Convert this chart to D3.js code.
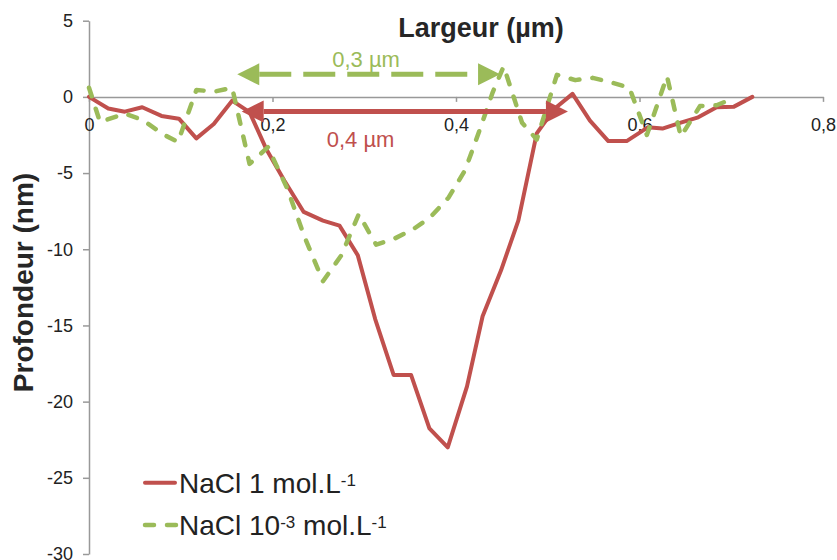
<!DOCTYPE html>
<html>
<head>
<meta charset="utf-8">
<script src="https://cdn.jsdelivr.net/npm/d3@7"></script>
<style>
  html, body { margin: 0; padding: 0; background: #fff; }
  svg { display: block; font-family: "Liberation Sans", Arial, sans-serif; }
</style>
</head>
<body>
<svg id="chart" width="837" height="560"></svg>
<script>
// ---- data ----
const redX = [0, 0.021, 0.039, 0.058, 0.079, 0.098, 0.117, 0.136, 0.156, 0.175, 0.193, 0.213, 0.234, 0.255, 0.273, 0.293, 0.312, 0.332, 0.351, 0.371, 0.391, 0.412, 0.429, 0.449, 0.468, 0.488, 0.507, 0.527, 0.546, 0.566, 0.586, 0.609, 0.625, 0.645, 0.664, 0.684, 0.703, 0.723];
const redY = [0, -0.76, -0.97, -0.68, -1.25, -1.43, -2.72, -1.78, -0.25, -1.0, -3.4, -5.5, -7.55, -8.12, -8.45, -10.4, -14.6, -18.25, -18.25, -21.75, -23.0, -19.0, -14.4, -11.4, -8.1, -2.4, -0.8, 0.2, -1.56, -2.9, -2.9, -2.0, -2.08, -1.69, -1.34, -0.68, -0.64, 0.0];

const greenX = [0, 0.012, 0.039, 0.058, 0.082, 0.097, 0.117, 0.137, 0.156, 0.175, 0.195, 0.216, 0.235, 0.255, 0.275, 0.294, 0.313, 0.333, 0.353, 0.372, 0.392, 0.410, 0.425, 0.440, 0.452, 0.472, 0.488, 0.510, 0.530, 0.549, 0.569, 0.589, 0.608, 0.630, 0.645, 0.666, 0.684, 0.702];
const greenY = [0.6, -1.65, -1.1, -1.5, -2.5, -2.95, 0.45, 0.35, 0.6, -4.4, -3.3, -6.0, -9.2, -12.1, -10.4, -7.7, -9.7, -9.3, -8.7, -7.9, -6.6, -4.8, -2.3, 0.3, 2.0, -1.7, -2.8, 1.45, 1.1, 1.25, 0.95, 0.6, -2.5, 1.35, -2.6, -0.6, -0.55, -0.1];

const xTicks = [0, 0.2, 0.4, 0.6, 0.8];
const xTickLabels = ["0", "0,2", "0,4", "0,6", "0,8"];
const yTicks = [5, 0, -5, -10, -15, -20, -25, -30];
const yTickLabels = ["5", "0", "-5", "-10", "-15", "-20", "-25", "-30"];

const seriesNames = ["NaCl 1 mol.L", "NaCl 10"];
const xTitle = "Largeur (µm)";
const yTitle = "Profondeur (nm)";

// annotation arrows (data units)
const greenArrow = { x1: 0.1616, x2: 0.448, y: 1.48, label: "0,3 µm", lx: 0.302, ly: 1.98 };
const redArrow = { x1: 0.1664, x2: 0.522, y: -0.96, label: "0,4 µm", lx: 0.296, ly: -3.27 };

// ---- colours ----
const RED = "#C0504D";
const GREEN = "#9BBB59";
const AXIS = "#999999";
const TEXT = "#222222";

const svg = d3.select("#chart");
svg.append("rect").attr("width", 837).attr("height", 560).attr("fill", "#fff");

const x = d3.scaleLinear().domain([0, 0.8]).range([89, 823]);
const y = d3.scaleLinear().domain([-30, 5]).range([554, 20.7]);

// y axis
const yAxis = d3.axisLeft(y)
  .tickValues(yTicks)
  .tickFormat((d, i) => yTickLabels[i])
  .tickSize(6).tickSizeOuter(0).tickPadding(10);
const gy = svg.append("g").attr("transform", `translate(${x(0)},0)`).call(yAxis);
gy.select(".domain").attr("stroke", AXIS).attr("stroke-width", 1.5);
gy.selectAll(".tick line").attr("stroke", AXIS).attr("stroke-width", 1.5);
gy.selectAll(".tick text").attr("fill", TEXT).attr("font-size", 18)
  .attr("font-family", "Liberation Sans, Arial, sans-serif");

// x axis at y = 0
const xAxis = d3.axisBottom(x)
  .tickValues(xTicks)
  .tickFormat((d, i) => xTickLabels[i])
  .tickSize(5).tickSizeOuter(0).tickPadding(16);
const gx = svg.append("g").attr("transform", `translate(0,${y(0)})`).call(xAxis);
gx.select(".domain").attr("stroke", AXIS).attr("stroke-width", 1.5);
gx.selectAll(".tick line").attr("stroke", AXIS).attr("stroke-width", 1.5);
gx.selectAll(".tick text").attr("fill", TEXT).attr("font-size", 18)
  .attr("font-family", "Liberation Sans, Arial, sans-serif");

// series
const line = d3.line().x(d => x(d[0])).y(d => y(d[1]));
const redData = redX.map((v, i) => [v, redY[i]]);
const greenData = greenX.map((v, i) => [v, greenY[i]]);

svg.append("path").datum(redData).attr("d", line)
  .attr("fill", "none").attr("stroke", RED).attr("stroke-width", 4)
  .attr("stroke-linejoin", "round").attr("stroke-linecap", "round");

svg.append("path").datum(greenData).attr("d", line)
  .attr("fill", "none").attr("stroke", GREEN).attr("stroke-width", 4.5)
  .attr("stroke-dasharray", "9,13")
  .attr("stroke-linejoin", "round").attr("stroke-linecap", "round");

// arrows
function arrowHead(tx, ty, dir, len, half) {
  return `M${tx},${ty}L${tx - dir * len},${ty - half}L${tx - dir * len},${ty + half}Z`;
}
function drawArrow(a, color, dashed, width) {
  const xl = x(a.x1), xr = x(a.x2), yy = y(a.y);
  const L = 22, H = 11;
  svg.append("line")
    .attr("x1", xl + L).attr("x2", xr - L).attr("y1", yy).attr("y2", yy)
    .attr("stroke", color).attr("stroke-width", width)
    .attr("stroke-dasharray", dashed ? "32,12" : null);
  svg.append("path").attr("d", arrowHead(xl, yy, -1, L, H)).attr("fill", color);
  svg.append("path").attr("d", arrowHead(xr, yy, 1, L, H)).attr("fill", color);
  svg.append("text").attr("x", x(a.lx)).attr("y", y(a.ly))
    .attr("text-anchor", "middle").attr("font-size", 22).attr("fill", color)
    .text(a.label);
}
drawArrow(redArrow, RED, false, 5);
drawArrow(greenArrow, GREEN, true, 5);

// titles
svg.append("text").attr("x", 481).attr("y", 36.5)
  .attr("text-anchor", "middle").attr("font-size", 27).attr("font-weight", "bold")
  .attr("fill", "#262626").text(xTitle);

svg.append("text")
  .attr("transform", "translate(33,282.5) rotate(-90)")
  .attr("text-anchor", "middle").attr("font-size", 28).attr("font-weight", "bold")
  .attr("fill", "#262626").text(yTitle);

// legend
const lg = svg.append("g");
lg.append("line").attr("x1", 145).attr("x2", 175).attr("y1", 482.7).attr("y2", 482.7)
  .attr("stroke", RED).attr("stroke-width", 4).attr("stroke-linecap", "round");
lg.append("line").attr("x1", 145).attr("x2", 176).attr("y1", 525).attr("y2", 525)
  .attr("stroke", GREEN).attr("stroke-width", 4.5).attr("stroke-linecap", "round")
  .attr("stroke-dasharray", "9,13");

const t1 = lg.append("text").attr("x", 179).attr("y", 493.3).attr("font-size", 28).attr("fill", TEXT);
t1.append("tspan").text(seriesNames[0]);
t1.append("tspan").attr("font-size", 17).attr("dy", -7).text("-1");

const t2 = lg.append("text").attr("x", 179).attr("y", 535).attr("font-size", 28).attr("fill", TEXT);
t2.append("tspan").text(seriesNames[1]);
t2.append("tspan").attr("font-size", 17).attr("dy", -7).text("-3");
t2.append("tspan").attr("dy", 7).text(" mol.L");
t2.append("tspan").attr("font-size", 17).attr("dy", -7).text("-1");
</script>
</body>
</html>
